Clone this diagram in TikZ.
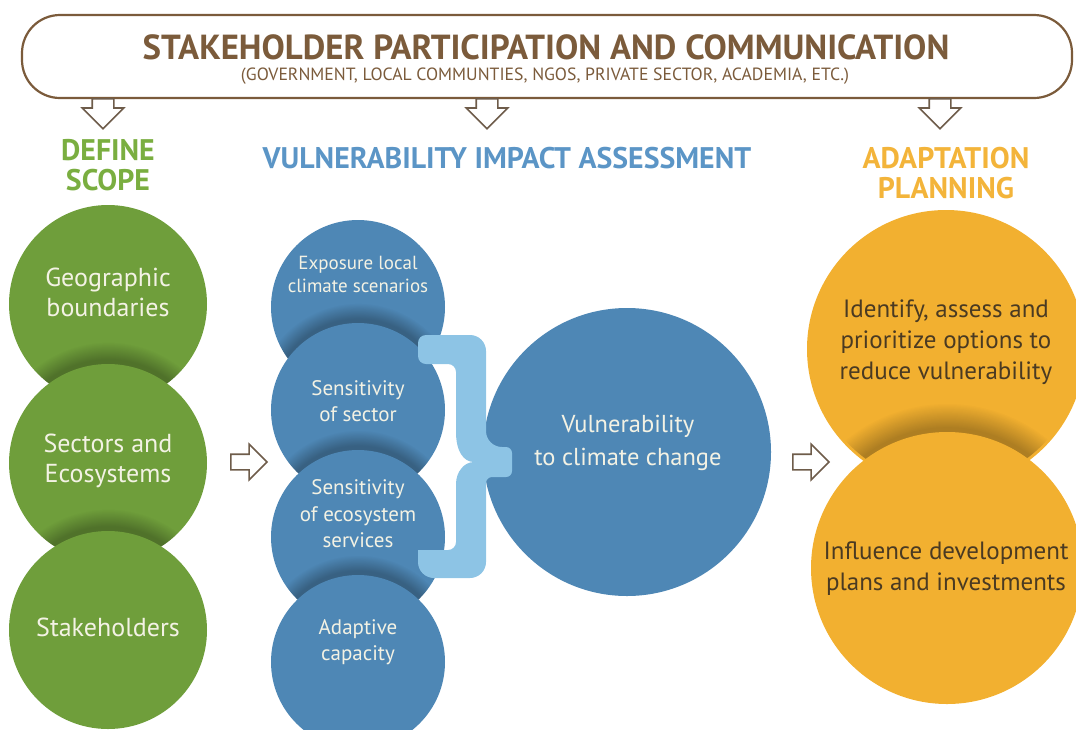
\documentclass[tikz,border=0pt]{standalone}
\usepackage{fontspec}
\setmainfont{PT Sans}
\usetikzlibrary{shapes.arrows,fadings}

\definecolor{brownline}{HTML}{7B5B3B}
\definecolor{arrowline}{HTML}{6E5C4A}
\definecolor{scopegreen}{HTML}{6F9E3B}
\definecolor{headgreen}{HTML}{7AAE40}
\definecolor{vulnblue}{HTML}{4E87B5}
\definecolor{headblue}{HTML}{5B95C6}
\definecolor{bracelight}{HTML}{8DC4E5}
\definecolor{planorange}{HTML}{F2B030}
\definecolor{headorange}{HTML}{F3B43A}
\definecolor{plantext}{HTML}{4A3A22}
\definecolor{lighttext}{HTML}{F3F2E4}

% darken the lower rim of the ball at #1 where the ball at #2 (radius #3) lies over it
\newcommand{\castshadow}[3]{%
  \begin{scope}
    \clip (#1) circle (#3);
    \fill[black, opacity=.28, path fading=circle with fuzzy edge 15 percent]
      ([yshift=4pt]#2) circle ({1.18*#3});
  \end{scope}}

\begin{document}
\begin{tikzpicture}[x=1pt, y=-1pt,
    ball/.style={circle, inner sep=0pt, minimum size=#1},
    balltext/.style={align=center, font=\fontsize{26}{30}\selectfont},
    smalltext/.style={align=center, font=\fontsize{21}{26.5}\selectfont, text=lighttext},
    heading/.style={align=center, font=\fontsize{29.8}{30}\selectfont\bfseries},
    downarrow/.style={single arrow, draw=arrowline, fill=white, line width=1.6pt,
      inner xsep=0pt, inner ysep=10pt, single arrow head extend=10pt,
      minimum height=30pt, rotate=-90, anchor=tail},
    rightarrow/.style={single arrow, draw=arrowline, fill=white, line width=1.6pt,
      inner xsep=0pt, inner ysep=7pt, single arrow head extend=10pt,
      minimum height=36pt}]
  \useasboundingbox (0,0) rectangle (1076,729);

  %% banner
  \draw[brownline, line width=2.2pt, fill=white, rounded corners=38] (22,15) rectangle (1072,98);
  \node[text=brownline, inner sep=0pt, anchor=base, font=\fontsize{34.8}{36}\selectfont\bfseries]
    (title) at (546,59) {STAKEHOLDER PARTICIPATION AND COMMUNICATION};
  \node[text=brownline, inner sep=0pt, anchor=base, font=\fontsize{17.7}{20}\selectfont]
    (who) at (545,80) {(GOVERNMENT, LOCAL COMMUNTIES, NGOS, PRIVATE SECTOR, ACADEMIA, ETC.)};

  % arrows
  \foreach \x/\name in {103/dscope, 487/dvia, 940/dplan}
    \node[downarrow] (\name) at (\x,98) {};
  \node[rightarrow] (rvia) at (245,462) {};
  \node[rightarrow] (rplan) at (807,462) {};

  % headings
  \node[heading, text=headgreen] (scope) at (108,165) {DEFINE\\SCOPE};
  \node[heading, text=headblue] (via) at (507,158) {VULNERABILITY IMPACT ASSESSMENT};
  \node[heading, text=headorange] (plan) at (946,173) {ADAPTATION\\PLANNING};

  %% define scope
  \node[ball=198, fill=scopegreen] (geo) at (108,304) {};
  \castshadow{108,304}{108,463}{99}
  \node[ball=198, fill=scopegreen] (sec) at (108,463) {};
  \castshadow{108,463}{108,630}{99}
  \node[ball=198, fill=scopegreen] (stk) at (108,630) {};
  \node[balltext, text=lighttext] at (108,292) {Geographic\\boundaries};
  \node[balltext, text=lighttext] at (108,461) {Sectors and\\Ecosystems};
  \node[balltext, text=lighttext] at (108,627) {Stakeholders};

  %% vulnerability impact assessment
  \node[ball=174, fill=vulnblue] (expo) at (358,307) {};
  \castshadow{358,307}{358,410}{87}
  \node[ball=174, fill=vulnblue] (sens) at (358,410) {};
  \castshadow{358,410}{358,537}{87}
  \node[ball=174, fill=vulnblue] (eco) at (358,537) {};
  \castshadow{358,537}{358,662}{87}
  \node[ball=174, fill=vulnblue] (adap) at (358,662) {};
  \node[smalltext, font=\fontsize{19}{23}\selectfont] at (358,274) {Exposure local\\climate scenarios};
  \node[smalltext] at (358,401) {Sensitivity\\of sector};
  \node[smalltext] at (358,514) {Sensitivity\\of ecosystem\\services};
  \node[smalltext] at (358,642) {Adaptive\\capacity};

  \node[ball=288, fill=vulnblue] (vul) at (627,452) {};
  \node[balltext, text=lighttext, font=\fontsize{24.5}{33}\selectfont] at (628,443)
    {Vulnerability\\to climate change};

  % brace
  \fill[bracelight] (418,335) [rounded corners=16] -- (486,335) -- (486,447)
    [rounded corners=6] -- (512,447) -- (512,477) -- (486,477)
    [rounded corners=16] -- (486,578) -- (418,578) [sharp corners] -- (418,550)
    [rounded corners=8] -- (456,550) -- (456,492) [sharp corners]
    .. controls (456,472) and (464,462) .. (474,462)
    .. controls (464,462) and (456,452) .. (456,432)
    [rounded corners=8] -- (456,364) -- (418,364) -- cycle;

  %% adaptation planning
  \node[ball=278, fill=planorange] (opts) at (946,349) {};
  \castshadow{946,349}{947,568}{136}
  \node[ball=272, fill=planorange] (infl) at (947,568) {};
  \node[balltext, text=plantext, font=\fontsize{25}{31}\selectfont] at (946,342)
    {Identify, assess and\\prioritize options to\\reduce vulnerability};
  \node[balltext, text=plantext, font=\fontsize{25}{31}\selectfont] at (946,569)
    {Influence development\\plans and investments};
\end{tikzpicture}
\end{document}
